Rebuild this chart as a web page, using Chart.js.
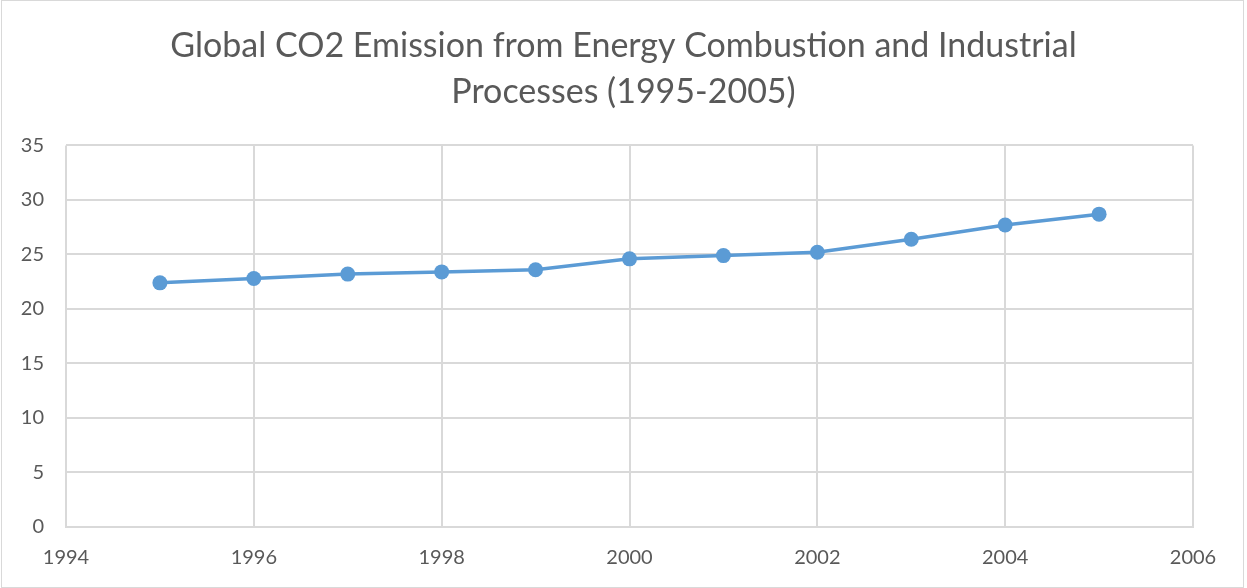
<!DOCTYPE html>
<html>
<head>
<meta charset="utf-8">
<script src="https://cdn.jsdelivr.net/npm/chart.js@4.4.1/dist/chart.umd.min.js"></script>
<style>
  html, body { margin: 0; padding: 0; background: #fff; }
  #wrap { position: relative; width: 1247px; height: 588px; }
</style>
</head>
<body>
<div id="wrap"><canvas id="co2Chart" width="1247" height="588"></canvas></div>
<script>
// data
const years = [1995, 1996, 1997, 1998, 1999, 2000, 2001, 2002, 2003, 2004, 2005];
const emissions = [22.4, 22.8, 23.2, 23.4, 23.6, 24.6, 24.9, 25.2, 26.4, 27.7, 28.7];
const titleLines = ['Global CO2 Emission from Energy Combustion and Industrial', 'Processes (1995-2005)'];

const textColor = '#595959';
const gridColor = '#d9d9d9';
const lineColor = '#5b9bd5';
const fontFamily = "Lato, 'Open Sans', sans-serif";

// white background + thin frame around the whole chart
const frame = {
    id: 'frame',
    beforeDraw(chart) {
        const ctx = chart.ctx;
        ctx.save();
        ctx.fillStyle = '#fff';
        ctx.fillRect(0, 0, chart.width, chart.height);
        ctx.strokeStyle = gridColor;
        ctx.lineWidth = 1;
        ctx.strokeRect(1.5, 0.5, chart.width - 5, chart.height - 1);
        ctx.restore();
    }
};

const ctx = document.getElementById('co2Chart').getContext('2d');
new Chart(ctx, {
    type: 'line',
    data: {
        datasets: [{
            label: 'CO2',
            data: years.map((y, i) => ({ x: y, y: emissions[i] })),
            borderColor: lineColor,
            backgroundColor: lineColor,
            borderWidth: 3.5,
            pointRadius: 7.5,
            pointHoverRadius: 7.5,
            pointBorderWidth: 0,
            tension: 0
        }]
    },
    plugins: [frame],
    options: {
        responsive: false,
        animation: false,
        layout: { padding: 0 },
        plugins: {
            legend: { display: false },
            tooltip: { enabled: false },
            title: {
                display: true,
                text: titleLines,
                color: textColor,
                font: { family: fontFamily, size: 34, weight: 'normal', lineHeight: 1.36 },
                padding: { top: 23, bottom: 30 }
            }
        },
        scales: {
            x: {
                type: 'linear',
                min: 1994,
                max: 2006,
                afterFit: (scale) => { scale.height = 61; },
                ticks: {
                    stepSize: 2,
                    color: textColor,
                    padding: 19,
                    font: { family: fontFamily, size: 20 },
                    callback: (v) => String(v)
                },
                grid: { color: gridColor, lineWidth: 2, drawTicks: false },
                border: { color: gridColor, width: 2 }
            },
            y: {
                min: 0,
                max: 35,
                afterFit: (scale) => { scale.width = 66; },
                ticks: {
                    stepSize: 5,
                    color: textColor,
                    padding: 22,
                    font: { family: fontFamily, size: 20 }
                },
                grid: { color: gridColor, lineWidth: 2, drawTicks: false },
                border: { display: false }
            },
            // empty right axis only to keep the right margin
            spacer: {
                type: 'linear',
                position: 'right',
                afterFit: (scale) => { scale.width = 54; },
                ticks: { display: false },
                grid: { display: false },
                border: { display: false }
            }
        }
    }
});
</script>
</body>
</html>
